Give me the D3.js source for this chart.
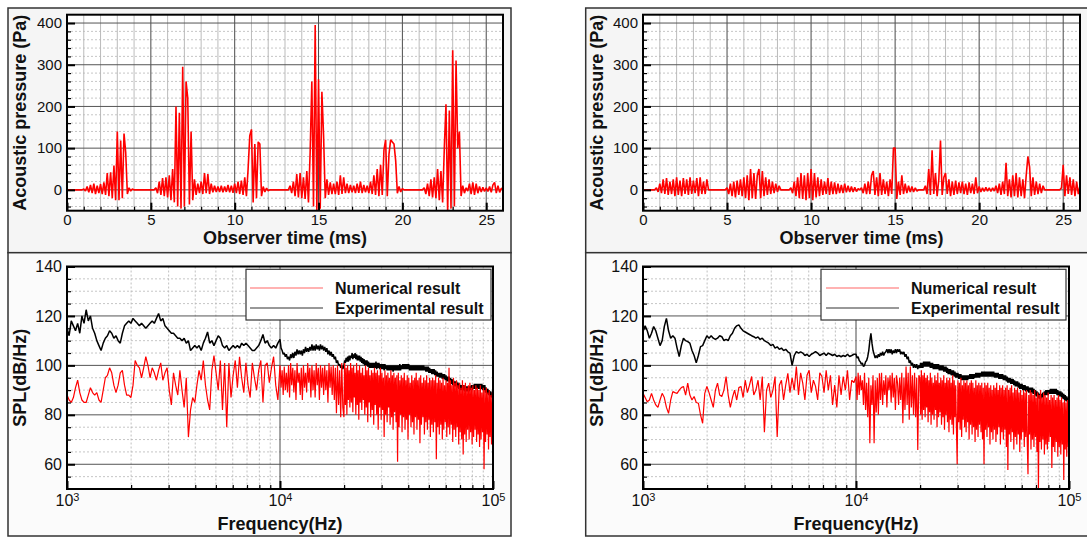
<!DOCTYPE html>
<html>
<head>
<meta charset="utf-8">
<script src="https://cdn.jsdelivr.net/npm/d3@7"></script>
<style>
body { margin: 0; background: #fff; }
</style>
</head>
<body>
<div id="container"></div>
<script>
const WIDTH = 1087;
const HEIGHT = 538;
const FONT = "'Liberation Sans', Arial, Helvetica, sans-serif";

// time signals, one sample every timeStep ms starting at 0
const timeStep = 0.1;
const timeTicks = [0, 5, 10, 15, 20, 25];
const pressureTicks = [0, 100, 200, 300, 400];

const leftPressure = [
    0, 0, 0, 0, 0, 0, 0, 0, 0, 0,
    2, -3, 8, -6, 12, -8, 15, -10, 10, -8,
    14, -10, 18, -12, 40, -15, 42, -20, 58, -25,
    140, -25, 118, -20, 135, 90, -10, 5, -3, 2,
    0, 0, 0, 0, 0, 0, 0, 0, 0, 0,
    0, 0, 0, 5, -8, 20, -12, 28, -15, 30,
    -18, 35, -25, 50, -30, 200, -40, 185, -45, 295,
    -40, 260, 220, -35, 140, -25, 25, -12, 15, -8,
    20, -10, 40, -8, 38, -10, 15, -6, 10, -5,
    8, -5, 10, -6, 8, -5, 12, -6, 10, -7,
    15, -8, 20, -10, 22, -12, 30, -15, 50, 130,
    145, -30, 110, -20, 115, 110, -15, 8, -5, 4,
    -2, 0, 0, 0, 0, 0, 0, 0, 0, 0,
    0, 0, 0, 10, -8, 20, -15, 38, -18, 40,
    -20, 30, -22, 45, -30, 90, 260, -40, 395, -50,
    265, -45, 235, 130, -20, 25, -12, 18, -10, 15,
    -10, 20, -12, 35, -10, 30, -8, 15, -8, 12,
    -6, 10, -8, 15, -7, 20, -8, 12, -6, 10,
    -8, 20, -10, 35, -12, 50, -15, 60, -12, 95,
    120, -15, 85, 120, 115, 110, 70, -8, 8, -5,
    3, 0, 0, 0, 0, 0, 0, 0, 0, 0,
    0, 0, 0, 5, -10, 15, -15, 25, -18, 30,
    -20, 50, -25, 45, -30, 100, 205, -55, 190, -45,
    335, -40, 310, 100, 140, -15, 10, -8, 5, -3,
    15, -10, 18, -12, 15, -8, 8, -5, 6, -4,
    5, -4, 8, -6, 12, 18, -8, 10, -6, 4,
    0
];

const rightPressure = [
    0, 0, 0, 0, 0, 0, 0, 0, 5, -5,
    15, -8, 25, -10, 28, -12, 20, -10, 25, -15,
    30, -12, 22, -15, 28, -10, 25, -12, 30, -10,
    22, -8, 28, -15, 30, -10, 20, -10, 25, 0,
    0, 0, 0, 0, 0, 0, 0, 0, 0, 0,
    5, -10, 15, -15, 20, -18, 22, -12, 25, -15,
    30, -20, 35, -25, 50, -20, 40, -22, 35, 50,
    -20, 45, -15, 30, -12, 25, -10, 20, -8, 15,
    -5, 10, 0, 0, 0, 0, 0, 0, 5, -8,
    20, -15, 30, -20, 40, -22, 35, -25, 40, -20,
    50, -25, 40, -18, 30, -15, 25, -12, 20, -10,
    28, -12, 20, -10, 18, -10, 15, -8, 12, -8,
    15, -6, 10, -5, 8, -5, 6, -4, 3, 0,
    5, -8, 15, -10, 20, -10, 35, 45, -12, 30,
    -15, 40, -12, 25, -10, 20, -15, 25, -10, 100,
    100, -22, 20, -12, 35, -10, 15, -8, 10, -5,
    8, -5, 5, -3, 0, 0, 0, 0, 10, -10,
    50, -12, 95, -10, 40, -15, 25, 118, -12, 30,
    40, -10, 25, -15, 20, -12, 22, -10, 18, -8,
    20, -10, 15, -12, 18, -8, 15, -10, 30, -8,
    8, -5, 5, -4, 6, -3, 5, -4, 5, -3,
    10, -8, 15, -12, 20, -10, 65, -15, 25, -18,
    35, -15, 40, -18, 30, -15, 25, -20, 35, 80,
    55, -15, 30, -12, 20, -10, 15, -8, 10, 0,
    0, 0, 0, 0, 0, 0, 0, 0, 0, 5,
    60, -15, 35, -10, 30, -12, 25, -15, 20, -10,
    10
];

// spectra are read off in three bands of log10(frequency):
// low 3.00-3.99 every 0.01, mid 4.000-4.295 every 0.005, high 4.30-5.00 every 0.0035
const lowLogStart = 3, lowLogStep = 0.01;
const midLogStart = 4, midLogStep = 0.005;
const highLogStart = 4.3, highLogStep = 0.0035;
const splTicks = [60, 80, 100, 120, 140];
const freqTicks = [1e3, 1e4, 1e5];
const legendLabels = ["Numerical result", "Experimental result"];

const leftNumericalLow = [
    88, 86, 85, 87, 91, 94, 89, 86, 85, 85,
    88, 91, 89, 88, 89, 86, 85, 90, 95, 96,
    99, 97, 92, 89, 92, 97, 98, 92, 88, 88,
    87, 92, 102, 100, 99, 95, 99, 103.5, 100, 95,
    99, 97, 94, 98, 101, 94, 97, 99, 90, 84,
    97, 92, 88, 98, 90, 83, 95, 71, 82, 87,
    85, 92, 98, 94, 102, 92, 86, 82, 98, 104,
    97, 90, 102, 82, 101, 75, 101, 87, 96, 102,
    91, 103.5, 95, 89, 101, 92, 87, 101, 95, 90,
    98, 102, 85, 100, 101, 93, 99, 103.5, 92, 86
];

const leftNumericalMid = [
    100, 91, 98, 88, 99.5, 90, 97, 89, 100, 87,
    101, 92, 99, 89, 98, 86, 101, 93, 97, 88,
    99, 86, 100, 91, 97, 89, 101, 93, 99, 87,
    100, 90, 98, 87, 101, 92, 99, 86, 100, 91,
    99, 88, 100, 90, 98, 85, 101, 91, 99.5, 88,
    100, 86, 99, 80.6, 100, 84, 98, 79, 101, 83
];

const leftNumericalHigh = [
    79, 101, 84, 99, 80, 100, 86, 98, 83, 101,
    85, 99, 81, 100, 87, 97, 80, 101, 84, 98,
    78, 100, 85, 97, 82, 99, 86, 96, 80, 100,
    83, 98, 77, 99, 85, 96, 79, 98, 82, 97,
    76, 99, 84, 97, 80, 98, 74, 96, 83, 99,
    78, 97, 82, 95, 71, 98, 80, 96, 77, 97,
    83, 95, 76, 98, 79, 96, 74, 97, 81, 95,
    77, 96, 61, 97, 75, 94, 80, 96, 73, 95,
    79, 97, 74, 94, 78, 96, 70, 95, 80, 93,
    75, 96, 77, 94, 72, 95, 79, 97, 74, 94,
    78, 95, 68.5, 96, 76, 93, 79, 95, 72, 94,
    77, 96, 74, 93, 78, 95, 71, 94, 76, 95,
    73, 94, 77, 96, 62, 93, 75, 95, 72, 94,
    76, 93, 70, 95, 74, 92, 77, 94, 71, 93,
    75, 99, 72, 94, 76, 92, 69, 95, 74, 93,
    71, 94, 75, 92, 68, 93, 73, 91, 70, 94,
    64, 92, 72, 93, 69, 91, 74, 92, 70, 93,
    73, 91, 68, 92, 71, 90, 74, 92, 69, 91,
    72, 90, 67, 92, 70, 89, 73, 91, 58, 90,
    69, 91, 72, 89, 66, 90, 71, 88, 68, 89,
    86
];

const leftExperimentalLow = [
    115, 112, 118, 116, 114, 117, 113, 120, 117, 122.5,
    118, 120, 115, 113, 110, 108, 106, 109, 111, 112,
    114, 113, 111, 112, 110, 109, 113, 116, 117, 118,
    117, 119, 118, 117, 116, 117, 116, 115, 116, 117,
    118, 117, 119, 121, 118, 119, 116, 115, 114, 113,
    113, 112, 111, 111, 110, 111, 109, 110, 106, 107,
    108, 107, 108, 106, 109, 111, 113.5, 109, 110, 108,
    110, 112, 111, 108, 107, 108, 106, 107, 108, 107,
    108, 107, 109, 108, 109, 108, 107, 106, 106, 107,
    108, 110, 112.5, 109, 110, 108, 107, 108, 107, 109
];

const leftExperimentalMid = [
    110.5, 107, 106, 104.5, 105, 103.5, 104.5, 102.5, 103.5, 102,
    104.5, 103, 105, 103, 105.5, 104, 106.5, 104.5, 106, 104.5,
    106, 104, 106.5, 105, 107.5, 105.5, 107, 105.5, 107.5, 106,
    108.5, 106, 108, 106, 108.5, 106.5, 108, 106, 108.5, 106.5,
    108, 106, 107.5, 105.5, 107, 104.5, 106, 104, 105.5, 103.5,
    104.5, 102.5, 103.5, 101, 102, 100, 100.5, 99, 100, 98.5
];

const leftExperimentalHigh = [
    100, 102, 101, 103, 101.5, 103.5, 101.5, 104, 102, 104,
    103, 105, 102.5, 104.5, 103, 105, 102.5, 104.5, 102, 104,
    102, 104, 101.5, 103.5, 101, 103, 100.5, 102.5, 100, 102,
    100, 102, 99.5, 101.5, 99, 101, 99, 101, 99, 101,
    99, 101, 99, 101.5, 98.5, 101, 99, 101, 98.5, 100.5,
    98.5, 100.5, 98.5, 100.5, 98, 100.5, 98.5, 100, 98, 100,
    98, 100, 98, 100, 98, 100, 97.5, 100, 98, 100,
    98, 100, 98, 100, 98, 100.5, 98, 100, 98.5, 100.5,
    98.5, 100.5, 98.5, 100.5, 98.5, 100.5, 98.5, 100.5, 98, 100,
    98, 100, 98, 100, 98, 100, 98, 100, 98, 100,
    98, 100, 98, 100, 98, 100, 98, 100, 98, 99.5,
    97.5, 99.5, 97.5, 99.5, 97, 99, 97, 98.5, 96.5, 98.5,
    96.5, 98.5, 96, 98, 95.5, 97.5, 95.5, 97, 95, 97,
    95, 97, 94.5, 96.5, 94.5, 96.5, 94, 96, 93.5, 95.5,
    93.5, 95.5, 93, 95, 92.5, 94.5, 92, 94, 91.5, 93.5,
    91.5, 93.5, 91, 93, 90.5, 92.5, 90, 92, 90, 92,
    90, 92, 89.5, 91.5, 89.5, 91.5, 89.5, 91.5, 89.5, 91.5,
    90, 92, 90, 92, 90.5, 92.5, 90.5, 92.5, 90.5, 92.5,
    90.5, 92.5, 90.5, 92.5, 90.5, 92.5, 90, 92, 90, 92,
    89, 91, 88.5, 90.5, 88, 90, 87.5, 89.5, 87, 89,
    87.5
];

const rightNumericalLow = [
    88.7, 87, 85.3, 86, 88.7, 86, 84, 83, 86, 88.7,
    87, 83, 80.6, 86, 89.4, 89, 88.7, 90, 91, 91.5,
    88, 92.8, 88, 86, 87.4, 85, 84.7, 80, 76.6, 88.7,
    91.5, 89, 86, 83, 90, 92.8, 88, 87.4, 90, 95.5,
    88, 83, 87, 90, 86, 91, 91.5, 87, 94, 89,
    92, 95.5, 88, 90, 94, 86, 95.5, 73, 90, 92.8,
    87, 90, 95.5, 71, 92, 94, 86, 92, 96.8, 89,
    95, 90, 99.5, 88, 97, 92.8, 86, 96, 98, 89,
    94, 91.5, 86, 97, 95.5, 89, 98, 90, 96, 84,
    92, 83, 96, 88, 95.5, 90, 98, 86, 94, 93
];

const rightNumericalMid = [
    95.5, 86, 97, 88, 96, 90, 94, 84, 97, 82,
    93, 79, 95, 68.5, 92, 84, 96, 68.5, 94, 81,
    95, 80, 96.8, 86, 97, 84, 94, 88, 96, 83,
    95, 90, 96, 85, 97, 87, 95, 82, 96, 92.8,
    84, 95, 86, 97, 76.6, 95, 82, 99.5, 84, 97,
    78, 99.5, 83, 96, 80, 97, 79, 95, 65.8, 96
];

const rightNumericalHigh = [
    95, 80, 98, 78, 96, 82, 97, 79, 95, 83,
    96, 77, 94, 81, 97, 76, 95, 80, 93, 78,
    96, 82, 94, 75, 97, 79, 93, 81, 95, 76,
    94, 79, 96, 74, 93, 80, 95, 77, 94, 73,
    95, 78, 93, 76, 96, 72, 94, 79, 92, 75,
    60, 94, 77, 93, 74, 95, 71, 92, 78, 94,
    75, 93, 73, 94, 77, 92, 70, 93, 76, 94,
    72, 93, 75, 91, 69, 94, 74, 92, 71, 93,
    76, 92, 73, 93, 70, 91, 60, 93, 74, 92,
    71, 93, 75, 91, 68, 92, 73, 90, 70, 92,
    74, 91, 69, 93, 72, 90, 75, 92, 68, 91,
    73, 92, 70, 90, 74, 91, 67, 92, 57.7, 90,
    72, 91, 69, 92, 73, 89, 66, 91, 71, 90,
    68, 91, 72, 89, 65, 90, 70, 88, 73, 90,
    67, 89, 71, 90, 69, 56, 88, 72, 90, 66,
    89, 70, 88, 67, 90, 71, 87, 65, 89, 50,
    88, 69, 90, 66, 87, 70, 89, 64, 88, 68,
    87, 66, 89, 69, 86, 71, 88, 58.5, 87, 67,
    88, 65, 86, 69, 87, 63, 88, 67, 86, 64,
    87, 68, 85, 53.6, 86, 66, 85, 63, 86, 67,
    80
];

const rightExperimentalLow = [
    113.7, 116, 114, 111, 113, 115.7, 114, 111, 108, 110,
    115.7, 119, 114, 111, 112, 111, 107, 103.6, 108, 111,
    110, 109.6, 109, 106, 104, 101, 104, 107.6, 108, 110,
    112, 111, 112, 111, 110.5, 111, 112, 111.6, 110, 110.5,
    110, 112, 113, 115, 116, 116.4, 115, 114, 113.5, 113,
    112.5, 112, 111.6, 111, 111.5, 110.5, 111, 110, 109.5, 109,
    108, 108.5, 107, 107.5, 106.5, 107, 106, 106.5, 105.5, 105,
    100, 104, 105.6, 105, 105.5, 105, 104, 104.5, 103.6, 104.5,
    105, 105.6, 105, 104, 104.5, 105, 104, 105, 104.5, 104,
    104.5, 103.6, 104, 103.5, 104, 103.6, 104.5, 103.6, 104, 104.5
];

const rightExperimentalMid = [
    104.5, 103, 103.5, 102, 101.5, 100.5, 101, 99.5, 100, 101.5,
    102, 103.5, 106, 110, 113, 109, 106, 104.5, 103, 104,
    103, 104.5, 103.5, 105, 104, 105.5, 104, 105, 105.5, 106.5,
    105, 106.5, 105, 106.5, 104.5, 106, 105, 106.5, 105, 106.5,
    105.5, 106.5, 104.5, 105.5, 104.5, 105.5, 103.5, 104.5, 102.5, 103.5,
    101, 102, 100, 101, 99, 100.5, 99, 100.5, 98.5, 100
];

const rightExperimentalHigh = [
    99, 101, 99, 101, 99, 101.5, 99.5, 101.5, 99.5, 101.5,
    99.5, 101.5, 99.5, 101.5, 99, 101, 99, 101, 98.5, 100.5,
    98.5, 100.5, 98.5, 100.5, 98.5, 100.5, 98, 100, 98, 100,
    98, 100, 97.5, 99.5, 97.5, 99.5, 97, 99, 96.5, 98.5,
    96.5, 98.5, 96, 98, 96, 98, 95.5, 97.5, 95, 97,
    95, 97, 94.5, 96.5, 94.5, 96.5, 94, 96, 94, 96,
    94, 96, 94, 96, 94, 96, 94.5, 96.5, 94.5, 96.5,
    94.5, 96.5, 94.5, 96.5, 95, 97, 95, 97, 95, 97,
    95, 97, 95.5, 97.5, 95.5, 97.5, 95.5, 97.5, 95.5, 97.5,
    95.5, 97.5, 95.5, 97.5, 95.5, 97.5, 95.5, 97.5, 95.5, 97.5,
    95, 97, 95, 97, 95, 97, 94.5, 96.5, 94.5, 96.5,
    94.5, 96.5, 94, 96, 94, 96, 93.5, 95.5, 93, 95,
    93, 95, 92.5, 94.5, 92.5, 94.5, 92, 94, 91.5, 93.5,
    91.5, 93.5, 91, 93, 90.5, 92.5, 90.5, 92.5, 90, 92,
    90, 92, 89.5, 91.5, 89.5, 91.5, 89, 91, 89, 91,
    89, 91, 88.5, 90.5, 88, 90, 87.5, 89.5, 87, 89,
    86.5, 88.5, 86.5, 88.5, 87, 89, 87.5, 89.5, 88, 90,
    88, 90, 88, 90, 88.5, 90.5, 88.5, 90.5, 88.5, 90.5,
    88.5, 90.5, 88.5, 90.5, 88, 90, 87.5, 89.5, 87.5, 89.5,
    87, 89, 86.5, 88.5, 86, 88, 85.5, 87.5, 85, 87,
    85
];

// layout
const TOP_PANEL = [8, 252.7];
const BOTTOM_PANEL = [252.7, 536];
const TIME_TOP = 14.7, TIME_BOTTOM = 210.7;
const SPEC_TOP = 266.5, SPEC_BOTTOM = 489;

var sides = [
    {x0: 8, x1: 511, timeLeft: 67, timeRight: 503, specLeft: 67, specRight: 493,
     legendX: 246, legendW: 245, lineX0: 250, lineX1: 323, textX: 335, titleX: 26,
     pressure: leftPressure,
     numerical: [leftNumericalLow, leftNumericalMid, leftNumericalHigh],
     experimental: [leftExperimentalLow, leftExperimentalMid, leftExperimentalHigh]},
    {x0: 585.7, x1: 1090, timeLeft: 643, timeRight: 1080, specLeft: 643, specRight: 1069,
     legendX: 821, legendW: 245, lineX0: 826, lineX1: 899, textX: 911, titleX: 603,
     pressure: rightPressure,
     numerical: [rightNumericalLow, rightNumericalMid, rightNumericalHigh],
     experimental: [rightExperimentalLow, rightExperimentalMid, rightExperimentalHigh]}
];

var translate = function (x, y) {
    return "translate(" + x + "," + y + ")";
};

// [frequency, SPL] pairs from the three read-off bands
var spectrumPoints = function (bands) {
    var grids = [[lowLogStart, lowLogStep], [midLogStart, midLogStep], [highLogStart, highLogStep]];
    var pts = [];
    bands.forEach(function (band, b) {
        band.forEach(function (v, i) {
            pts.push([Math.pow(10, grids[b][0] + i * grids[b][1]), v]);
        });
    });
    return pts;
};

var styleAxis = function (g, width) {
    g.select(".domain").remove();
    g.selectAll(".tick line").attr("stroke", "#000").attr("stroke-width", width);
    g.selectAll(".tick text")
        .attr("fill", "#111")
        .style("font-size", "15px")
        .style("font-family", FONT);
};

var gridX = function (g, x, values, y0, y1, color, dash, width) {
    g.selectAll(null).data(values).enter().append("line")
        .attr("x1", function (d) { return x(d); })
        .attr("x2", function (d) { return x(d); })
        .attr("y1", y0).attr("y2", y1)
        .attr("stroke", color).attr("stroke-width", width)
        .attr("stroke-dasharray", dash);
};

var gridY = function (g, y, values, x0, x1, color, dash, width) {
    g.selectAll(null).data(values).enter().append("line")
        .attr("y1", function (d) { return y(d); })
        .attr("y2", function (d) { return y(d); })
        .attr("x1", x0).attr("x2", x1)
        .attr("stroke", color).attr("stroke-width", width)
        .attr("stroke-dasharray", dash);
};

var title = function (svg, text, x, y, rotate) {
    svg.append("text")
        .attr("transform", translate(x, y) + (rotate ? " rotate(-90)" : ""))
        .attr("text-anchor", "middle")
        .style("font-family", FONT)
        .style("font-size", "18px")
        .style("font-weight", "bold")
        .attr("fill", "#111")
        .text(text);
};

var drawTimePlot = function (svg, side, id) {
    var x = d3.scaleLinear().domain([0, 26]).range([side.timeLeft, side.timeRight]);
    var y = d3.scaleLinear().domain([-50, 420]).range([TIME_BOTTOM, TIME_TOP]);
    var g = svg.append("g");

    g.append("rect")
        .attr("x", side.timeLeft).attr("y", TIME_TOP)
        .attr("width", side.timeRight - side.timeLeft)
        .attr("height", TIME_BOTTOM - TIME_TOP)
        .attr("fill", "#fff");

    var minorX = d3.range(1, 26).filter(function (v) { return v % 5 !== 0; });
    var minorY = d3.range(-40, 420, 20).filter(function (v) { return v % 100 !== 0; });
    gridX(g, x, minorX, TIME_TOP, TIME_BOTTOM, "#a9a9a9", null, 0.8);
    gridY(g, y, minorY, side.timeLeft, side.timeRight, "#b8b8b8", "2,2", 0.8);
    gridX(g, x, timeTicks.slice(1), TIME_TOP, TIME_BOTTOM, "#4a4a4a", null, 1);
    gridY(g, y, pressureTicks, side.timeLeft, side.timeRight, "#555", null, 1);

    svg.append("clipPath").attr("id", id).append("rect")
        .attr("x", side.timeLeft).attr("y", TIME_TOP)
        .attr("width", side.timeRight - side.timeLeft)
        .attr("height", TIME_BOTTOM - TIME_TOP);

    var line = d3.line()
        .x(function (d, i) { return x(i * timeStep); })
        .y(function (d) { return y(d); });

    g.append("path")
        .attr("d", line(side.pressure))
        .attr("fill", "none")
        .attr("stroke", "#ff0000")
        .attr("stroke-width", 1.6)
        .attr("stroke-linejoin", "bevel")
        .attr("clip-path", "url(#" + id + ")");

    styleAxis(g.append("g").attr("transform", translate(0, TIME_BOTTOM))
        .call(d3.axisBottom(x).tickValues(minorX).tickSize(-4).tickFormat("")), 1.2);
    styleAxis(g.append("g").attr("transform", translate(0, TIME_BOTTOM))
        .call(d3.axisBottom(x).tickValues(timeTicks).tickSize(-8).tickPadding(4)), 2);
    styleAxis(g.append("g").attr("transform", translate(side.timeLeft, 0))
        .call(d3.axisLeft(y).tickValues(minorY).tickSize(-4).tickFormat("")), 1.2);
    styleAxis(g.append("g").attr("transform", translate(side.timeLeft, 0))
        .call(d3.axisLeft(y).tickValues(pressureTicks).tickSize(-8).tickPadding(5)), 2);

    g.append("rect")
        .attr("x", side.timeLeft).attr("y", TIME_TOP)
        .attr("width", side.timeRight - side.timeLeft)
        .attr("height", TIME_BOTTOM - TIME_TOP)
        .attr("fill", "none").attr("stroke", "#000").attr("stroke-width", 2);

    title(svg, "Observer time (ms)", (side.timeLeft + side.timeRight) / 2, 244, false);
    title(svg, "Acoustic pressure (Pa)", side.titleX, (TIME_TOP + TIME_BOTTOM) / 2, true);
};

var drawSpecPlot = function (svg, side, id) {
    var x = d3.scaleLog().domain([1e3, 1e5]).range([side.specLeft, side.specRight]);
    var y = d3.scaleLinear().domain([50, 140]).range([SPEC_BOTTOM, SPEC_TOP]);
    var g = svg.append("g");

    g.append("rect")
        .attr("x", side.specLeft).attr("y", SPEC_TOP)
        .attr("width", side.specRight - side.specLeft)
        .attr("height", SPEC_BOTTOM - SPEC_TOP)
        .attr("fill", "#fff");

    var minorX = [];
    [1e3, 1e4].forEach(function (dec) {
        d3.range(2, 10).forEach(function (m) { minorX.push(m * dec); });
    });
    var minorY = d3.range(55, 140, 5).filter(function (v) { return v % 20 !== 0; });
    gridX(g, x, minorX, SPEC_TOP, SPEC_BOTTOM, "#b0b0b0", "2,2", 0.8);
    gridY(g, y, minorY, side.specLeft, side.specRight, "#b8b8b8", "2,2", 0.8);
    gridX(g, x, [1e4], SPEC_TOP, SPEC_BOTTOM, "#4a4a4a", null, 1);
    gridY(g, y, splTicks, side.specLeft, side.specRight, "#555", null, 1);

    svg.append("clipPath").attr("id", id).append("rect")
        .attr("x", side.specLeft).attr("y", SPEC_TOP)
        .attr("width", side.specRight - side.specLeft)
        .attr("height", SPEC_BOTTOM - SPEC_TOP);

    var line = d3.line()
        .x(function (d) { return x(d[0]); })
        .y(function (d) { return y(d[1]); });

    g.append("path")
        .attr("d", line(spectrumPoints(side.experimental)))
        .attr("fill", "none").attr("stroke", "#000").attr("stroke-width", 1.5)
        .attr("stroke-linejoin", "bevel")
        .attr("clip-path", "url(#" + id + ")");
    g.append("path")
        .attr("d", line(spectrumPoints(side.numerical)))
        .attr("fill", "none").attr("stroke", "#ff0000").attr("stroke-width", 1.2)
        .attr("stroke-linejoin", "bevel")
        .attr("clip-path", "url(#" + id + ")");

    styleAxis(g.append("g").attr("transform", translate(0, SPEC_BOTTOM))
        .call(d3.axisBottom(x).tickValues(minorX).tickSize(-4).tickFormat("")), 1.2);
    var xAxis = g.append("g").attr("transform", translate(0, SPEC_BOTTOM))
        .call(d3.axisBottom(x).tickValues(freqTicks).tickSize(-8).tickPadding(6).tickFormat(""));
    styleAxis(xAxis, 2);
    xAxis.selectAll(".tick text").style("font-size", "16px").each(function (d) {
        var t = d3.select(this);
        t.text("10");
        t.append("tspan").attr("dy", "-0.5em").style("font-size", "11px")
            .text(Math.round(Math.log10(d)));
    });
    styleAxis(g.append("g").attr("transform", translate(side.specLeft, 0))
        .call(d3.axisLeft(y).tickValues(minorY).tickSize(-4).tickFormat("")), 1.2);
    var yAxis = g.append("g").attr("transform", translate(side.specLeft, 0))
        .call(d3.axisLeft(y).tickValues(splTicks).tickSize(-8).tickPadding(5));
    styleAxis(yAxis, 2);
    yAxis.selectAll(".tick text").style("font-size", "16px");

    g.append("rect")
        .attr("x", side.specLeft).attr("y", SPEC_TOP)
        .attr("width", side.specRight - side.specLeft)
        .attr("height", SPEC_BOTTOM - SPEC_TOP)
        .attr("fill", "none").attr("stroke", "#000").attr("stroke-width", 2);

    // legend
    var lg = g.append("g");
    lg.append("rect")
        .attr("x", side.legendX).attr("y", 269.3)
        .attr("width", side.legendW).attr("height", 50.7)
        .attr("fill", "#fff").attr("stroke", "#333").attr("stroke-width", 1.2);
    var colors = ["#ff0000", "#000"];
    legendLabels.forEach(function (label, k) {
        var ly = 288 + k * 20;
        lg.append("line")
            .attr("x1", side.lineX0).attr("x2", side.lineX1)
            .attr("y1", ly).attr("y2", ly)
            .attr("stroke", colors[k]).attr("stroke-width", 1.2)
            .attr("opacity", k === 0 ? 0.6 : 0.8);
        lg.append("text")
            .attr("x", side.textX).attr("y", ly + 5.5)
            .style("font-family", FONT).style("font-size", "16px").style("font-weight", "bold")
            .attr("fill", "#111")
            .text(label);
    });

    title(svg, "Frequency(Hz)", (side.specLeft + side.specRight) / 2, 529.5, false);
    title(svg, "SPL(dB/Hz)", side.titleX, (SPEC_TOP + SPEC_BOTTOM) / 2, true);
};

var createChart = function () {
    var svg = d3.select("#container")
        .append("svg")
        .attr("width", WIDTH)
        .attr("height", HEIGHT);

    svg.append("rect").attr("width", WIDTH).attr("height", HEIGHT).attr("fill", "#fff");

    sides.forEach(function (side, k) {
        svg.append("rect")
            .attr("x", side.x0).attr("y", TOP_PANEL[0])
            .attr("width", side.x1 - side.x0).attr("height", TOP_PANEL[1] - TOP_PANEL[0])
            .attr("fill", "#f5f5f5").attr("stroke", "#333").attr("stroke-width", 1.5);
        svg.append("rect")
            .attr("x", side.x0).attr("y", BOTTOM_PANEL[0])
            .attr("width", side.x1 - side.x0).attr("height", BOTTOM_PANEL[1] - BOTTOM_PANEL[0])
            .attr("fill", "#fbfbfb").attr("stroke", "#333").attr("stroke-width", 1.5);

        drawTimePlot(svg, side, "clipTime" + k);
        drawSpecPlot(svg, side, "clipSpec" + k);
    });
};

window.onload = createChart;
</script>
</body>
</html>
